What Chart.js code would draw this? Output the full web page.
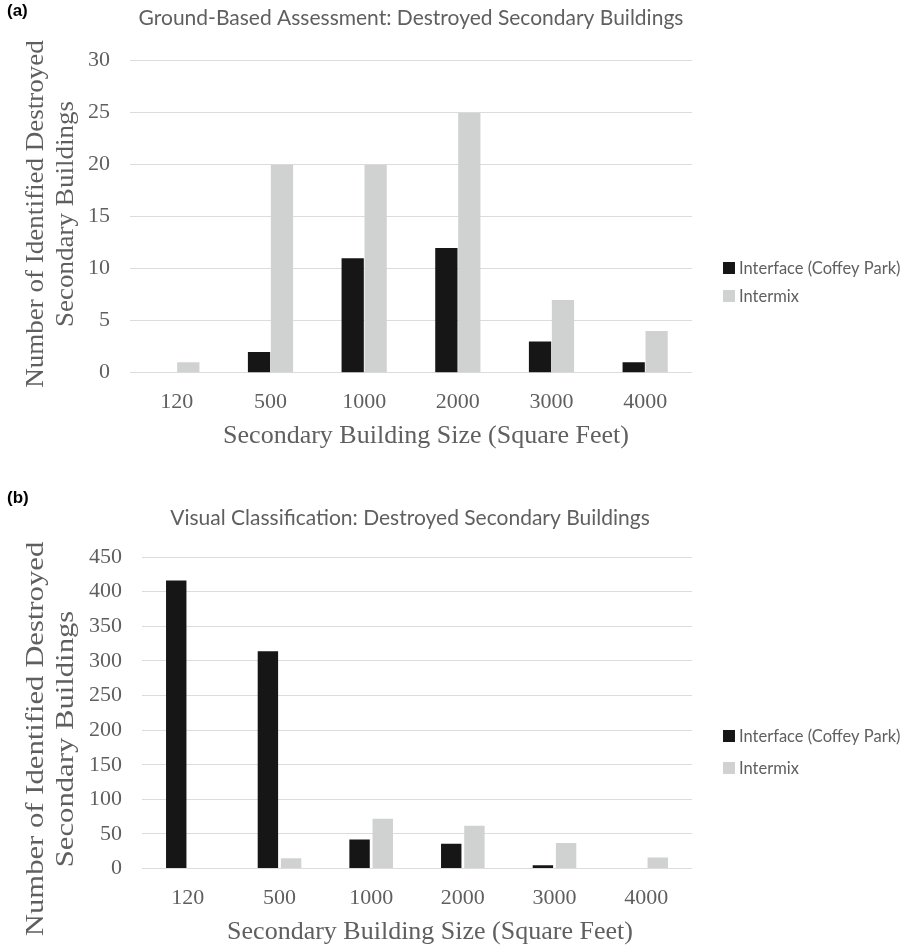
<!DOCTYPE html>
<html>
<head>
<meta charset="utf-8">
<script src="https://cdn.jsdelivr.net/npm/chart.js@4.4.1/dist/chart.umd.min.js"></script>
<style>
  html, body { margin: 0; padding: 0; background: #fff; }
  #wrap { position: relative; width: 905px; height: 950px; }
  .panel { position: absolute; left: 0; width: 905px; }
</style>
</head>
<body>
<div id="wrap">
  <div class="panel" style="top:0;height:470px"><canvas id="chartA"></canvas></div>
  <div class="panel" style="top:470px;height:480px"><canvas id="chartB"></canvas></div>
</div>
<script>
// building sizes (square feet)
const sizes = ["120", "500", "1000", "2000", "3000", "4000"];
const seriesNames = ["Interface (Coffey Park)", "Intermix"];

// (a) ground-based assessment
const groundInterface = [0, 2, 11, 12, 3, 1];
const groundIntermix = [1, 20, 20, 25, 7, 4];

// (b) visual classification
const visualInterface = [416, 314, 42, 36, 5, 0];
const visualIntermix = [0, 15, 72, 62, 37, 16];

const yMaxA = 30, yStepA = 5;
const yMaxB = 450, yStepB = 50;

const xTitle = "Secondary Building Size (Square Feet)";
const yTitle = ["Number of Identified Destroyed", "Secondary Buildings"];

const DARK = "#161616";
const LIGHT = "#d0d2d1";
const TEXT = "#5f5f5f";
const SERIF = "'Liberation Serif', 'Times New Roman', serif";
const SANS = "Lato, 'Open Sans', sans-serif";

// panel letter, chart title, axis titles and legend (canvas coordinates)
const panelDecor = {
  id: "panelDecor",
  afterDraw(chart, args, opts) {
    const ctx = chart.ctx;
    ctx.save();
    ctx.fillStyle = "#000";
    ctx.font = "bold 17px 'Liberation Sans', Arial, sans-serif";
    ctx.textBaseline = "middle";
    ctx.textAlign = "left";
    ctx.fillText(opts.letter, 7, opts.letterY);

    ctx.fillStyle = TEXT;
    ctx.font = "21px " + SANS;
    ctx.textAlign = "center";
    ctx.fillText(opts.title, opts.titleX, opts.titleY);

    // x axis title
    ctx.font = "26px " + SERIF;
    ctx.fillText(xTitle, opts.xTitleX, opts.xTitleY);

    // y axis title, stretched along its length like the original
    ctx.save();
    ctx.translate(0, opts.yTitleCY);
    ctx.rotate(-Math.PI / 2);
    ctx.scale(opts.yStretch, 1);
    yTitle.forEach((line, i) => ctx.fillText(line, 0, 36 + i * 30));
    ctx.restore();

    ctx.font = "16.5px " + SANS;
    ctx.textAlign = "left";
    chart.data.datasets.forEach((ds, i) => {
      const y = opts.legendY[i];
      ctx.fillStyle = ds.backgroundColor;
      ctx.fillRect(723, y - 6, 12, 12);
      ctx.fillStyle = TEXT;
      ctx.fillText(ds.label, 739, y + 1);
    });
    ctx.restore();
  }
};

function makeChart(id, p) {
  return new Chart(document.getElementById(id), {
    type: "bar",
    data: {
      labels: sizes,
      datasets: [
        { label: seriesNames[0], data: p.interface, backgroundColor: DARK,
          categoryPercentage: p.catPct, barPercentage: p.barPct },
        { label: seriesNames[1], data: p.intermix, backgroundColor: LIGHT,
          categoryPercentage: p.catPct, barPercentage: p.barPct }
      ]
    },
    options: {
      responsive: true,
      maintainAspectRatio: false,
      animation: false,
      devicePixelRatio: 1,
      layout: { padding: { top: p.padTop, right: 213, bottom: p.padBottom, left: 0 } },
      plugins: {
        legend: { display: false },
        tooltip: { enabled: false },
        panelDecor: p.decor
      },
      scales: {
        x: {
          grid: { display: false, drawTicks: false },
          border: { display: false },
          ticks: { color: TEXT, font: { family: SERIF, size: 22 }, padding: 16 },
          afterFit(scale) { scale.height = 80; }
        },
        y: {
          min: 0,
          max: p.yMax,
          ticks: { stepSize: p.yStep, color: TEXT, font: { family: SERIF, size: 22 }, padding: 20 },
          grid: { color: "#dcdcdc", lineWidth: 1, drawTicks: false },
          border: { display: false },
          afterFit(scale) { scale.width = p.yWidth; }
        }
      }
    },
    plugins: [panelDecor]
  });
}

makeChart("chartA", {
  interface: groundInterface, intermix: groundIntermix,
  yMax: yMaxA, yStep: yStepA,
  padTop: 60.7, padBottom: 17.3, yWidth: 130,
  catPct: 0.49, barPct: 0.97,
  decor: {
    letter: "(a)", letterY: 11,
    title: "Ground-Based Assessment: Destroyed Secondary Buildings", titleX: 411, titleY: 18,
    xTitleX: 426, xTitleY: 436,
    yTitleCY: 214, yStretch: 1.04,
    legendY: [268, 296]
  }
});

makeChart("chartB", {
  interface: visualInterface, intermix: visualIntermix,
  yMax: yMaxB, yStep: yStepB,
  padTop: 87, padBottom: 1.4, yWidth: 142,
  catPct: 0.506, barPct: 0.88,
  decor: {
    letter: "(b)", letterY: 28,
    title: "Visual Classification: Destroyed Secondary Buildings", titleX: 410, titleY: 48,
    xTitleX: 430, xTitleY: 462,
    yTitleCY: 269, yStretch: 1.18,
    legendY: [266, 298]
  }
});
</script>
</body>
</html>
